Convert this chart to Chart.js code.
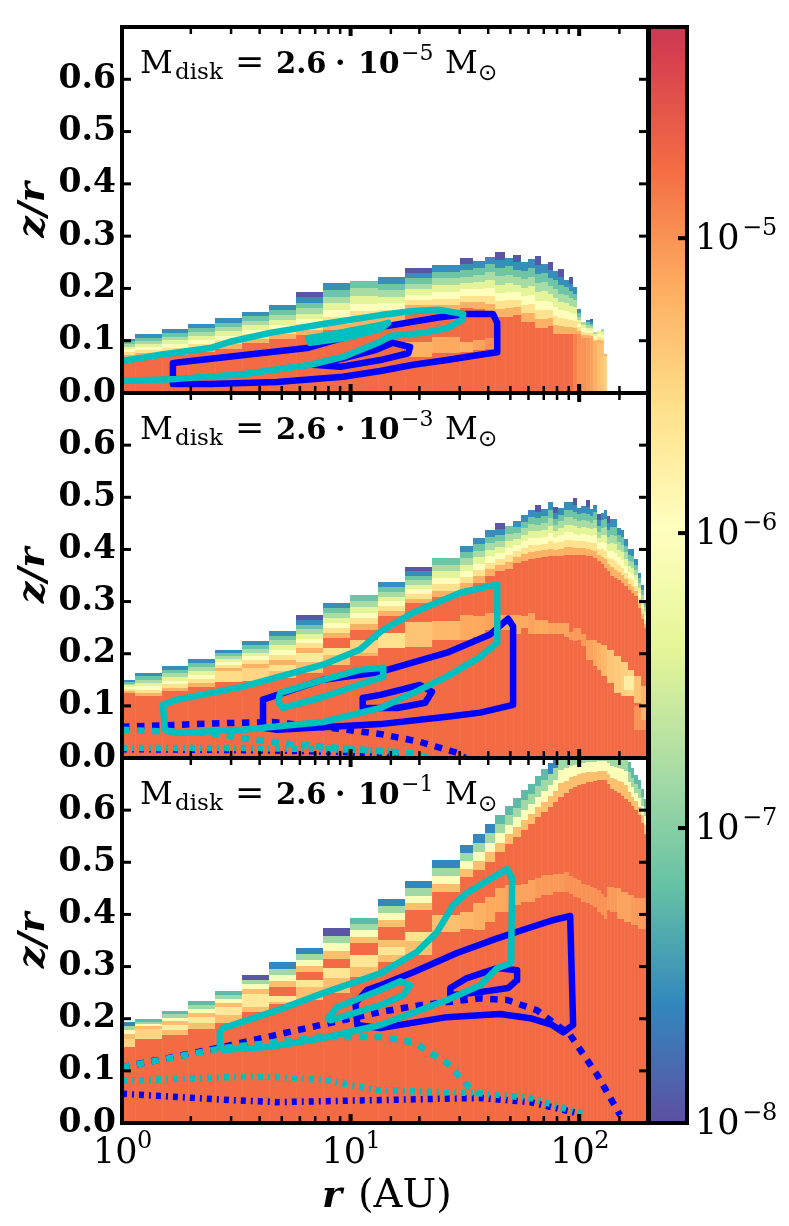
<!DOCTYPE html>
<html>
<head>
<meta charset="utf-8">
<script src="https://cdn.jsdelivr.net/npm/chart.js@4"></script>
<style>
  body { margin: 0; background: #fff; }
  #page { position: relative; width: 789px; height: 1226px; overflow: hidden; }
  canvas { position: absolute; }
</style>
</head>
<body>
<div id="page">
  <canvas id="panel1" style="left:0;top:0"></canvas>
  <canvas id="panel2" style="left:0;top:366px"></canvas>
  <canvas id="panel3" style="left:0;top:731px"></canvas>
  <canvas id="cbar" style="left:640px;top:0"></canvas>
</div>
<script>
// radial cell edges in AU, shared by all panels
const rEdges = [1,1.14,1.5,1.94,2.55,3.35,4.4,5.77,7.58,9.95,13.2,17.3,22.7,30.1,34.4,38.8,42.9,47.4,51.4,55.7,59.8,64.2,68.2,73.2,76.9,80.9,86,90.4,94.2,98,102,107,111,115.5,120,124,128,133,137,142,147,152,157,163,169,174,181,187,193,200];

// log10 abundance steps from the top of a column down to the warm interior
const skinLevels = [-7.95,-7.55,-7.15,-6.8,-6.4,-6.0,-5.6,-5.2];
const skinLevels3 = [-7.95,-7.6,-7.25,-6.85,-6.05,-5.3];
const baseLevel = -4.75;

// colour bar
const cbarMin = 1e-8;
const cbarMax = 5.2e-5;
const cbarTicks = [1e-8,1e-7,1e-6,1e-5];
const cbarExps = ['−8','−7','−6','−5'];
const cmapPos = [0,.109,.217,.326,.435,.543,.652,.761,.87,.978,1];
const cmapColors = ['#5e4fa2','#3288bd','#66c2a5','#abdda4','#e6f598','#ffffbf','#fee08b','#fdae61','#f46d43','#d53e4f','#c93a52'];

// panel 1: column top, bottom of the skin, first skin step used, warm patches [column, zLow, zHigh, level]
const top1 = [.104,.112,.122,.132,.143,.155,.168,.193,.210,.215,.221,.240,.245,.259,.252,.261,.269,.258,.264,.250,.256,.262,.246,.250,.233,.237,.217,.222,.203,.160,.136,.140,.142,.117,.119,.122,.075];
const skin1 = [.068,.070,.073,.079,.085,.095,.103,.111,.120,.127,.135,.157,.155,.162,.160,.155,.146,.146,.150,.136,.136,.125,.125,.128,.112,.112,.112,.112,.112,.112,.105,.105,.105,.095,.095,.095,.070];
const cap1 = [1,1,1,1,1,1,1,0,1,2,1,0,1,0,1,1,0,1,0,1,1,0,1,0,1,0,1,0,1,1,3,1,0,3,4,3,7];
const warm1 = [[12,.069,.098,-5.2],[13,.076,.108,-5.15],[14,.079,.098,-5.2],[15,.082,.101,-5.1],[16,.085,.105,-5.0],[29,0,.112,-4.9],[30,0,.112,-5.0],[31,0,.105,-5.0],[32,0,.105,-5.05],[33,0,.105,-5.1],[34,0,.095,-5.2],[35,0,.095,-5.3],[36,0,.095,-5.35],[37,0,.070,-5.45]];

// panel 2
const top2 = [.150,.163,.176,.190,.207,.224,.244,.274,.298,.312,.338,.367,.383,.407,.422,.437,.450,.444,.455,.466,.475,.485,.477,.490,.482,.480,.490,.491,.498,.480,.483,.494,.477,.486,.467,.470,.475,.464,.459,.459,.442,.438,.420,.401,.400,.381,.355,.332,.297];
const skin2 = [.125,.118,.128,.137,.166,.173,.179,.202,.230,.246,.272,.297,.308,.323,.336,.349,.359,.362,.374,.378,.381,.384,.385,.387,.388,.388,.390,.390,.390,.390,.390,.388,.387,.383,.378,.372,.365,.358,.350,.345,.342,.336,.330,.323,.317,.310,.288,.266,.249];
const cap2 = [1,1,1,1,1,1,1,0,1,2,1,0,2,1,1,1,0,2,1,1,1,0,1,1,0,1,1,1,0,1,1,0,1,1,0,1,1,0,1,1,1,1,1,1,1,1,1,1,2];
const warm2 = [[5,.145,.166,-5.55],[6,.148,.173,-5.5],[7,.166,.179,-5.6],[7,.153,.166,-5.3],[8,.185,.202,-5.7],[8,.163,.185,-5.3],[9,.198,.211,-5.6],[9,.179,.198,-5.3],[10,.202,.227,-5.45],[10,.195,.202,-5.2],[11,.211,.240,-5.6],[12,.213,.260,-5.35],[13,.227,.262,-5.25],[14,.227,.275,-5.15],[15,.233,.272,-5.15],[16,.246,.278,-5.1],[17,.246,.275,-5.1],[18,.246,.275,-5.1],[19,.237,.275,-5.15],[20,.250,.272,-5.15],[21,.237,.278,-5.1],[22,.237,.265,-5.15],[23,.237,.265,-5.15],[24,.237,.259,-5.1],[25,.237,.259,-5.1],[26,.237,.259,-5.1],[27,.233,.259,-5.1],[28,.227,.241,-5.05],[29,.224,.249,-5.05],[30,.227,.249,-5.05],[31,.214,.237,-5.05],[32,.188,.227,-5.1],[33,.188,.227,-5.1],[34,.176,.227,-5.15],[35,.169,.220,-5.2],[36,.157,.217,-5.25],[37,.157,.217,-5.25],[38,.143,.208,-5.35],[39,.143,.208,-5.35],[40,.125,.195,-5.4],[41,.125,.195,-5.4],[42,.118,.185,-5.45],[43,.118,.185,-5.45],[44,.118,.169,-5.5],[45,.118,.169,-5.5],[43,.131,.157,-5.75],[44,.131,.157,-5.75],[45,.131,.157,-5.75],[46,.105,.157,-5.35],[47,.105,.157,-5.35],[48,.073,.138,-5.2],[49,.073,.138,-5.2],[46,.054,.100,-5.0],[47,.054,.100,-5.0],[48,.054,.073,-5.0],[49,.054,.073,-5.0]];

// panel 3 (columns past the axis top are read as reaching about .73)
const top3 = [.194,.199,.215,.234,.254,.284,.308,.335,.374,.394,.429,.464,.504,.534,.555,.574,.591,.608,.623,.638,.651,.665,.678,.691,.702,.73,.73,.73,.73,.73,.73,.73,.73,.73,.73,.73,.73,.73,.73,.73,.73,.73,.73,.692,.680,.667,.657,.641,.622];
const skin3 = [.162,.181,.188,.204,.223,.248,.261,.290,.315,.345,.376,.408,.443,.472,.485,.501,.520,.536,.549,.562,.574,.587,.596,.606,.615,.625,.632,.641,.644,.648,.651,.654,.654,.655,.657,.657,.657,.650,.640,.637,.632,.628,.622,.615,.607,.600,.590,.575,.555];
const cap3 = [1,2,2,2,2,0,1,1,0,2,1,1,1,1,1,1,2,2,2,2,2,2,2,1,1,1,1,1,1,1,1,1,1,1,1,1,1,1,1,1,1,1,1,2,2,2,2,2,2];
const warm3 = [[1,.146,.162,-5.5],[2,.162,.181,-5.5],[3,.178,.188,-5.75],[3,.169,.178,-5.3],[4,.191,.204,-5.7],[4,.181,.191,-5.3],[5,.207,.223,-5.7],[5,.191,.207,-5.3],[6,.223,.248,-5.7],[6,.213,.223,-5.3],[7,.233,.243,-5.7],[7,.229,.233,-5.3],[8,.235,.270,-5.3],[8,.261,.274,-5.65],[9,.250,.290,-5.3],[9,.278,.297,-5.65],[10,.280,.299,-5.3],[10,.299,.322,-5.65],[11,.309,.351,-5.3],[11,.323,.337,-5.65],[12,.322,.350,-5.3],[12,.350,.366,-5.6],[13,.366,.398,-5.3],[14,.373,.405,-5.25],[15,.370,.421,-5.2],[16,.386,.434,-5.15],[17,.405,.450,-5.15],[18,.405,.456,-5.1],[19,.418,.456,-5.1],[20,.424,.459,-5.1],[21,.424,.466,-5.1],[22,.431,.469,-5.05],[23,.437,.475,-5.05],[24,.437,.475,-5.05],[25,.443,.478,-5.05],[26,.443,.478,-5.05],[27,.443,.481,-5.0],[28,.440,.473,-5.0],[29,.434,.469,-5.0],[30,.431,.466,-5.0],[31,.424,.459,-5.0],[32,.421,.456,-5.0],[33,.418,.453,-5.0],[34,.414,.450,-5.0],[35,.405,.447,-5.0],[36,.399,.440,-5.0],[37,.392,.434,-5.0],[38,.408,.453,-5.05],[39,.405,.453,-5.05],[40,.405,.450,-5.05],[41,.392,.450,-5.1],[42,.392,.443,-5.1],[43,.386,.443,-5.1],[44,.386,.437,-5.1],[45,.379,.437,-5.05],[46,.379,.431,-5.05],[47,.373,.431,-5.05],[48,.373,.431,-5.05],[49,.373,.431,-5.0]];

// contours, [r, z/r]
const blueOuter1 = [[1.67,.057],[1.79,.059],[6.45,.086],[13.5,.126],[24.6,.145],[32.3,.151],[42,.151],[43.8,.134],[43.8,.078],[36.9,.073],[26.4,.063],[18.8,.054],[13.5,.042],[9.27,.031],[4.77,.021],[2.43,.017],[1.67,.017],[1.67,.057]];
const blueInner1 = [[6.85,.054],[9,.050],[13.5,.063],[17.9,.076],[18.2,.088],[15.3,.096],[12.8,.082],[9.46,.067],[6.85,.054]];
const cyanOuter1 = [[1,.061],[1.47,.073],[2.43,.086],[2.97,.098],[4.44,.115],[7.58,.132],[13.5,.149],[18.8,.157],[24.6,.159],[31.1,.151],[30.8,.140],[26.4,.124],[20.8,.115],[14.9,.109],[13.5,.098],[9.27,.069],[6.65,.054],[3.38,.036],[1.74,.027],[1,.023]];
const cyanInner1 = [[6.65,.096],[6.52,.105],[9.46,.117],[13.5,.130],[14.6,.134],[13.5,.122],[9.46,.105],[6.65,.096]];

const blueOuter2 = [[4.14,.112],[7.58,.150],[13.5,.165],[26.4,.202],[40.8,.237],[48.9,.267],[51.4,.252],[51.4,.102],[36.9,.087],[26.4,.079],[13.5,.065],[4.77,.054],[4.14,.058],[4.14,.112]];
const blueInner2 = [[11.3,.096],[11.3,.115],[13.5,.121],[20.1,.140],[22.7,.127],[21.2,.106],[16,.096],[11.3,.096]];
const cyanOuter2 = [[1.51,.102],[1.74,.112],[3.38,.137],[7.58,.179],[11,.208],[13.5,.242],[18.8,.279],[30.2,.317],[43.8,.333],[43.8,.221],[36.9,.194],[26.4,.156],[18.8,.125],[13.5,.096],[7.58,.069],[3.38,.054],[1.74,.048],[1.54,.054],[1.51,.102]];
const cyanInner2 = [[4.82,.108],[4.92,.125],[7.58,.150],[11,.169],[13.9,.173],[13.9,.156],[7.58,.117],[5.06,.096],[4.82,.108]];
const blueDash2 = [[1,.060],[2.88,.067],[4.58,.069],[8.13,.058],[13.5,.046],[20.1,.031],[29.2,.010],[31.7,0]];
const cyanDash2 = [[1,.054],[2.43,.048],[3.38,.038],[5.44,.027],[9,.019],[13.5,.013],[18.2,.010],[22.3,0]];
const blueDot2 = [[1,.017],[3.63,.015],[9,.012],[13.5,.006],[16.5,0]];
const cyanDot2 = [[1,.019],[3.63,.019],[7.36,.017],[13.5,.015],[16.5,.010]];

const blueOuter3 = [[91.3,.397],[94.1,.188],[85.1,.174],[76.2,.188],[61,.201],[45.1,.209],[26.4,.203],[13.5,.182],[10.7,.188],[10.5,.230],[11.8,.255],[13.5,.264],[18.8,.289],[29.2,.326],[43.8,.354],[61,.375],[76.9,.389],[91.3,.397]];
const blueInner3 = [[27.3,.245],[27.3,.259],[32.3,.278],[43.8,.297],[53.5,.293],[53.5,.274],[48.9,.259],[36.9,.251],[27.3,.245]];
const cyanOuter3 = [[2.68,.174],[2.77,.182],[4.77,.216],[7.58,.249],[13.5,.287],[19.5,.328],[23.9,.366],[28.1,.418],[32.3,.441],[48.4,.487],[50.9,.469],[50.4,.307],[43.8,.297],[36.9,.264],[26.4,.236],[13.5,.188],[7.58,.163],[4.44,.146],[2.77,.140],[2.68,.146],[2.68,.174]];
const cyanInner3 = [[7.97,.201],[8.73,.222],[13.5,.255],[16.5,.272],[18.2,.264],[17,.245],[13.5,.226],[8.13,.197],[7.97,.201]];
const blueDash3 = [[1,.107],[2.77,.146],[5.83,.178],[13.5,.213],[20.1,.226],[36.9,.239],[48.4,.236],[65.5,.216],[91.3,.169],[120,.092],[151,.015]];
const cyanDash3 = [[1,.107],[2.77,.144],[7.58,.165],[13.5,.165],[18.8,.155],[26.4,.115],[33.3,.067],[36.9,.054]];
const blueDot3 = [[1,.056],[2.97,.044],[4.77,.040],[13.5,.044],[36.9,.048],[61,.040],[98,.019]];
const cyanDot3 = [[1,.081],[2.97,.088],[4.77,.088],[7.89,.082],[13.1,.063],[36.9,.057],[61,.048],[108,.015]];

const dejavu = '"DejaVu Serif"';
const BLUE = '#0000ff';
const CYAN = '#00bfbf';

function hexRgb(h) {
  return [1, 3, 5].map(i => parseInt(h.slice(i, i + 2), 16));
}

function levelColor(level) {
  const lo = Math.log10(cbarMin), hi = Math.log10(cbarMax);
  const t = Math.min(1, Math.max(0, (level - lo) / (hi - lo)));
  let i = 0;
  while (i < cmapPos.length - 2 && t > cmapPos[i + 1]) i++;
  const f = (t - cmapPos[i]) / (cmapPos[i + 1] - cmapPos[i]);
  const a = hexRgb(cmapColors[i]), b = hexRgb(cmapColors[i + 1]);
  return `rgb(${a.map((v, k) => Math.round(v + (b[k] - v) * f)).join(',')})`;
}

// stepsFor picks the skin bands of one column from its first step
function heatmapPlugin(tops, skins, caps, warm, stepsFor) {
  return {
    id: 'heatmap',
    beforeDatasetsDraw(chart) {
      const { ctx, chartArea: a, scales: { x, y } } = chart;
      ctx.save();
      ctx.beginPath();
      ctx.rect(a.left, a.top, a.width, a.height);
      ctx.clip();
      const cell = (col, zLow, zHigh, level) => {
        const x0 = Math.round(x.getPixelForValue(rEdges[col])), x1 = Math.round(x.getPixelForValue(rEdges[col + 1]));
        const y0 = Math.round(y.getPixelForValue(zHigh)), y1 = Math.round(y.getPixelForValue(zLow));
        ctx.fillStyle = levelColor(level);
        ctx.fillRect(x0, y0, x1 - x0, y1 - y0);
      };
      tops.forEach((top, col) => {
        cell(col, 0, skins[col], baseLevel);
        const steps = stepsFor(caps[col]);
        const h = (top - skins[col]) / steps.length;
        steps.forEach((level, i) => cell(col, top - (i + 1) * h, top - i * h, level));
      });
      warm.forEach(w => cell(w[0] - 1, w[1], w[2], w[3]));
      // faint seams between columns inside the warm interior
      ctx.fillStyle = 'rgba(255,255,255,0.05)';
      tops.forEach((top, col) => {
        const px = Math.round(x.getPixelForValue(rEdges[col]));
        const py = y.getPixelForValue(skins[col]);
        ctx.fillRect(px, py, 1, a.bottom - py);
      });
      ctx.restore();
    }
  };
}

function tickLine(ctx, x0, y0, x1, y1, w) {
  ctx.lineWidth = w;
  ctx.beginPath();
  ctx.moveTo(x0, y0);
  ctx.lineTo(x1, y1);
  ctx.stroke();
}

const framePlugin = {
  id: 'frame',
  afterDraw(chart) {
    const { ctx, chartArea: a, scales: { x, y } } = chart;
    ctx.save();
    ctx.strokeStyle = '#000';
    x.ticks.forEach(t => {
      const px = x.getPixelForValue(t.value);
      const len = t.major ? 9 : 7, w = t.major ? 4 : 2.5;
      tickLine(ctx, px, a.bottom, px, a.bottom - len, w);
      tickLine(ctx, px, a.top, px, a.top + len, w);
    });
    y.ticks.forEach(t => {
      const py = y.getPixelForValue(t.value);
      tickLine(ctx, a.left, py, a.left + 9, py, 3);
      tickLine(ctx, a.right, py, a.right - 9, py, 3);
    });
    ctx.lineWidth = 4;
    ctx.strokeRect(a.left, a.top, a.width, a.height);
    ctx.restore();
  }
};

function text(ctx, str, x, y, font) {
  ctx.font = font;
  ctx.fillText(str, x, y);
}

function titlePlugin(exp) {
  return {
    id: 'panelTitle',
    afterDraw(chart) {
      const ctx = chart.ctx;
      ctx.save();
      ctx.fillStyle = '#000';
      ctx.textAlign = 'left';
      ctx.textBaseline = 'alphabetic';
      text(ctx, 'M', 140, 73, `32px ${dejavu}`);
      text(ctx, 'disk', 175, 79, `23px ${dejavu}`);
      text(ctx, '=', 235, 73, `35px ${dejavu}`);
      text(ctx, '2.6', 276, 73, `bold 29px ${dejavu}`);
      text(ctx, '·', 335, 73, `bold 30px ${dejavu}`);
      text(ctx, '10', 358, 73, `bold 30px ${dejavu}`);
      text(ctx, exp, 401, 60, `22px ${dejavu}`);
      text(ctx, 'M', 445, 73, `32px ${dejavu}`);
      text(ctx, '⊙', 478, 80, '23px "DejaVu Sans"');
      ctx.restore();
    }
  };
}

const xLabelPlugin = {
  id: 'xLabels',
  afterDraw(chart) {
    const { ctx, scales: { x } } = chart;
    ctx.save();
    ctx.fillStyle = '#000';
    ctx.textBaseline = 'alphabetic';
    [1, 10, 100].forEach((v, i) => {
      const px = x.getPixelForValue(v);
      text(ctx, '10', px - 29, 432, `35px ${dejavu}`);
      text(ctx, String(i), px + 15, 417, `24px ${dejavu}`);
    });
    text(ctx, 'r', 322, 476, `italic bold 38px ${dejavu}`);
    text(ctx, '(AU)', 358, 476, `40px ${dejavu}`);
    ctx.restore();
  }
};

function lineSet(data, color, dash) {
  return {
    data: data,
    showLine: true,
    borderColor: color,
    borderWidth: 6.5,
    borderDash: dash || [],
    borderCapStyle: dash ? 'butt' : 'round',
    borderJoinStyle: 'round',
    pointRadius: 0,
    fill: false,
    tension: 0
  };
}

function makePanel(id, height, bottom, lines, plugins) {
  const canvas = document.getElementById(id);
  canvas.width = 700;
  canvas.height = height;
  return new Chart(canvas, {
    type: 'scatter',
    data: { datasets: lines },
    plugins: plugins,
    options: {
      responsive: false,
      animation: false,
      devicePixelRatio: 1,
      layout: { padding: { left: 0, right: 52, top: 27, bottom: height - bottom } },
      plugins: { legend: { display: false }, tooltip: { enabled: false } },
      scales: {
        x: {
          type: 'logarithmic',
          min: 1,
          max: 200,
          display: false,
          ticks: { autoSkip: false }
        },
        y: {
          min: 0,
          max: 0.7,
          afterFit(scale) {
            scale.width = 122;
            scale.paddingTop = 0;
            scale.paddingBottom = 0;
          },
          grid: { display: false, drawTicks: false },
          border: { display: false },
          title: {
            display: true,
            text: 'z/r',
            color: '#000',
            padding: { top: 11, bottom: 0 },
            font: { family: dejavu, size: 38, style: 'italic', weight: 'bold' }
          },
          ticks: {
            stepSize: 0.1,
            autoSkip: false,
            padding: 6,
            color: '#000',
            font: { family: dejavu, size: 33, weight: 'bold' },
            callback: v => (v > 0.65 ? '' : v.toFixed(1))
          }
        }
      }
    }
  });
}

const fineSteps = cap => skinLevels.slice(cap);
const coarseSteps = cap => [skinLevels3[cap], ...skinLevels3.slice(3)];
const dashed = [7.5, 7.5];
const dashDot = [5, 5, 2, 5];

makePanel('panel1', 440, 393, [
  lineSet(cyanInner1, CYAN), lineSet(cyanOuter1, CYAN),
  lineSet(blueInner1, BLUE), lineSet(blueOuter1, BLUE)
], [heatmapPlugin(top1, skin1, cap1, warm1, fineSteps), framePlugin, titlePlugin('−5')]);

makePanel('panel2', 440, 392, [
  lineSet(cyanInner2, CYAN), lineSet(cyanOuter2, CYAN),
  lineSet(cyanDash2, CYAN, dashed), lineSet(cyanDot2, CYAN, dashDot),
  lineSet(blueInner2, BLUE), lineSet(blueOuter2, BLUE),
  lineSet(blueDash2, BLUE, dashed), lineSet(blueDot2, BLUE, dashDot)
], [heatmapPlugin(top2, skin2, cap2, warm2, fineSteps), framePlugin, titlePlugin('−3')]);

makePanel('panel3', 495, 392, [
  lineSet(cyanInner3, CYAN), lineSet(cyanOuter3, CYAN),
  lineSet(cyanDash3, CYAN, dashed), lineSet(cyanDot3, CYAN, dashDot),
  lineSet(blueInner3, BLUE), lineSet(blueOuter3, BLUE),
  lineSet(blueDash3, BLUE, dashed), lineSet(blueDot3, BLUE, dashDot)
], [heatmapPlugin(top3, skin3, cap3, warm3, coarseSteps), framePlugin, titlePlugin('−1'), xLabelPlugin]);

// colour bar: one floating bar filled with the colour map, on a log axis
const cbarPlugin = {
  id: 'cbarFrame',
  afterDraw(chart) {
    const { ctx, chartArea: a, scales: { y } } = chart;
    ctx.save();
    ctx.strokeStyle = '#000';
    ctx.fillStyle = '#000';
    ctx.textBaseline = 'alphabetic';
    cbarTicks.forEach((v, i) => {
      const py = y.getPixelForValue(v);
      tickLine(ctx, a.right, py, a.right - 9, py, 4);
      text(ctx, '10', a.right + 8, py + 11, `35px ${dejavu}`);
      text(ctx, cbarExps[i], a.right + 55, py - 3, `24px ${dejavu}`);
    });
    ctx.lineWidth = 4;
    ctx.strokeRect(a.left, a.top, a.width, a.height);
    ctx.restore();
  }
};

const cbarCanvas = document.getElementById('cbar');
cbarCanvas.width = 149;
cbarCanvas.height = 1150;
new Chart(cbarCanvas, {
  type: 'bar',
  data: {
    labels: [''],
    datasets: [{
      data: [[cbarMin, cbarMax]],
      barPercentage: 1,
      categoryPercentage: 1,
      backgroundColor(context) {
        const a = context.chart.chartArea;
        if (!a) return cmapColors[0];
        const g = context.chart.ctx.createLinearGradient(0, a.bottom, 0, a.top);
        cmapPos.forEach((p, i) => g.addColorStop(p, cmapColors[i]));
        return g;
      }
    }]
  },
  plugins: [cbarPlugin],
  options: {
    responsive: false,
    animation: false,
    devicePixelRatio: 1,
    layout: { padding: { left: 9, right: 102, top: 27, bottom: 27 } },
    plugins: { legend: { display: false }, tooltip: { enabled: false } },
    scales: {
      x: { display: false },
      y: { type: 'logarithmic', min: cbarMin, max: cbarMax, display: false }
    }
  }
});
</script>
</body>
</html>
